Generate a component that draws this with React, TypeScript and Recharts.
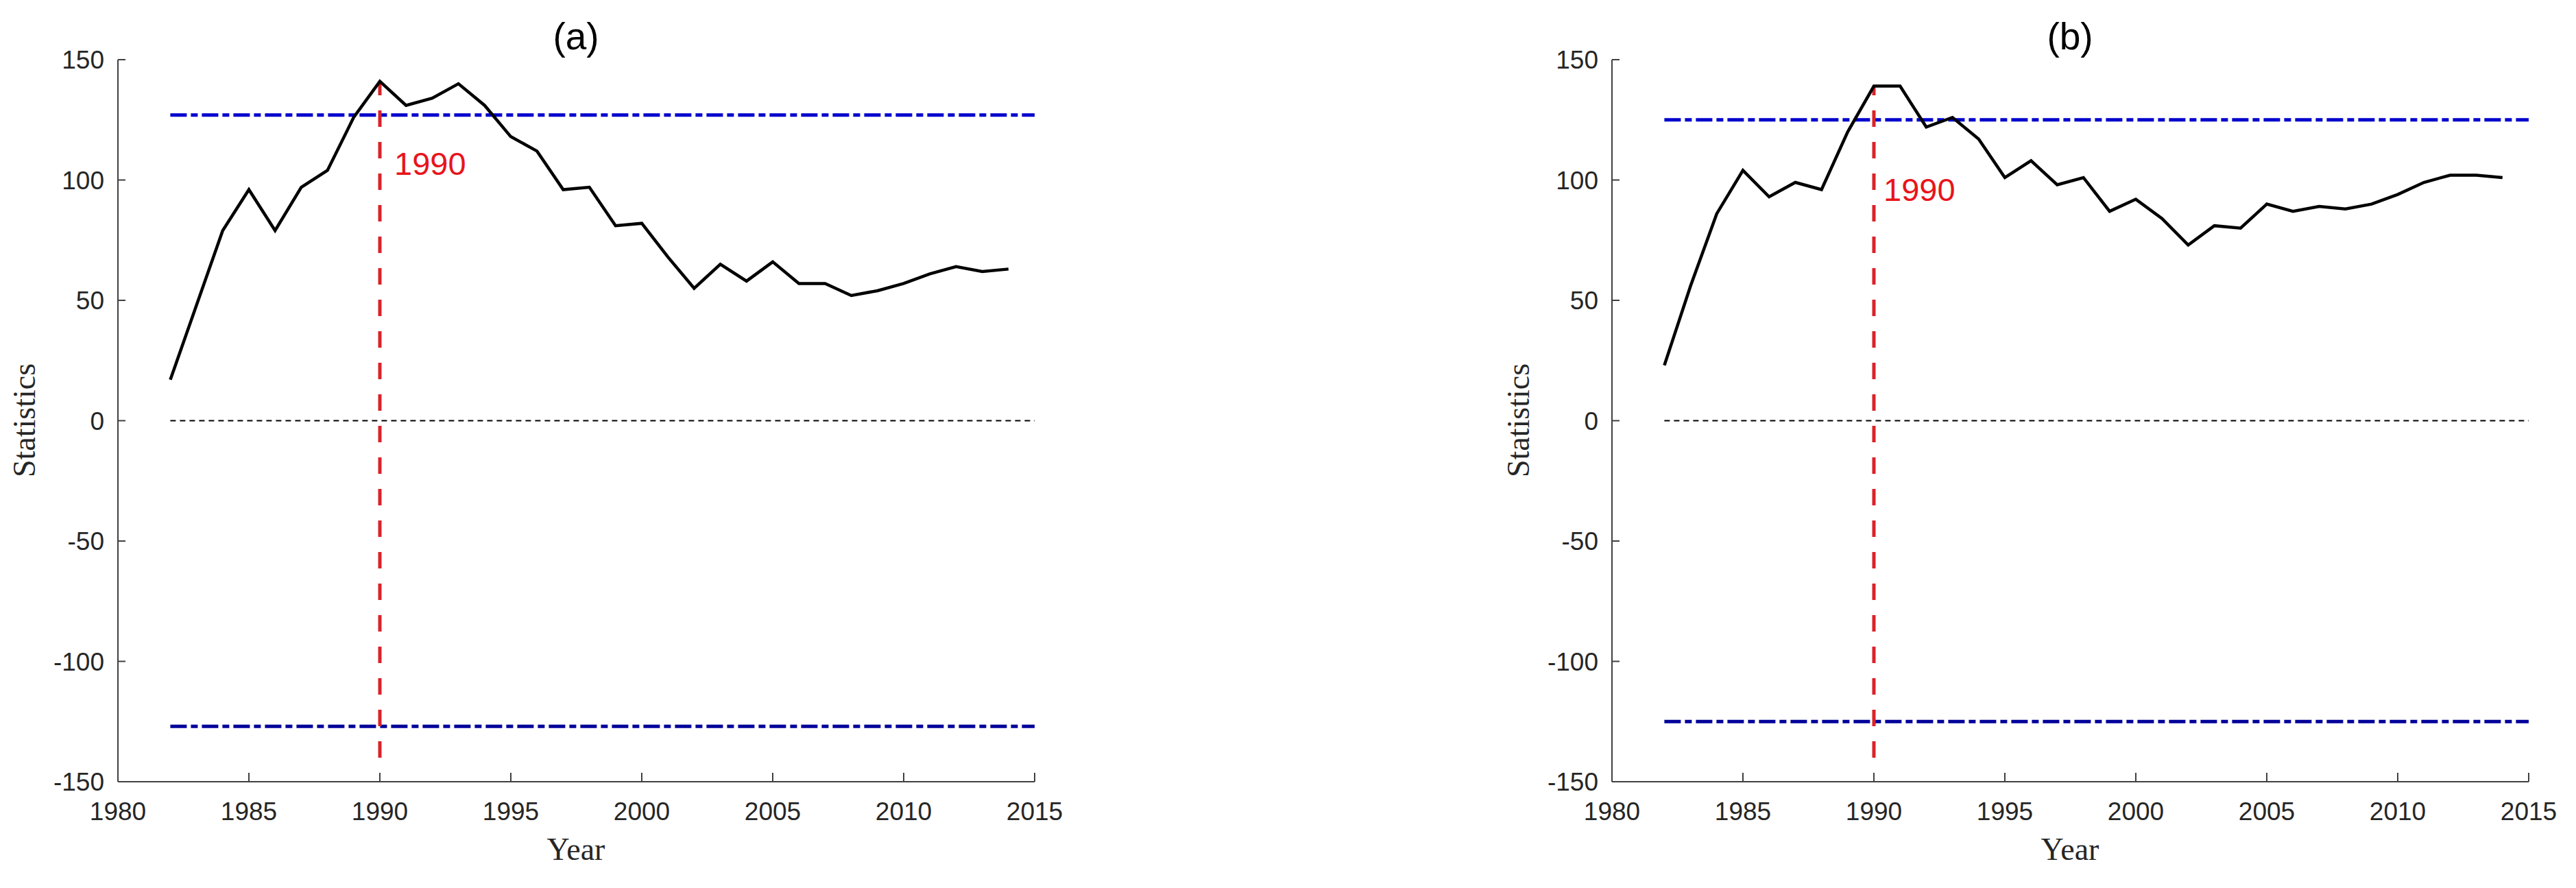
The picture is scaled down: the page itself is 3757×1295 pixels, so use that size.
import React from 'react'
import { LineChart, Line, XAxis, YAxis, ReferenceLine, ReferenceDot } from 'recharts'

// years 1982-2014, statistics
const years = [
  1982, 1983, 1984, 1985, 1986, 1987, 1988, 1989, 1990, 1991, 1992,
  1993, 1994, 1995, 1996, 1997, 1998, 1999, 2000, 2001, 2002, 2003,
  2004, 2005, 2006, 2007, 2008, 2009, 2010, 2011, 2012, 2013, 2014,
]
const statA = [
  17, 48, 79, 96, 79, 97, 104, 126, 141, 131, 134,
  140, 131, 118, 112, 96, 97, 81, 82, 68, 55, 65,
  58, 66, 57, 57, 52, 54, 57, 61, 64, 62, 63,
]
const statB = [
  23, 56, 86, 104, 93, 99, 96, 120, 139, 139, 122,
  126, 117, 101, 108, 98, 101, 87, 92, 84, 73, 81,
  80, 90, 87, 89, 88, 90, 94, 99, 102, 102, 101,
]
const limitA = 127
const limitB = 125
const breakYear = 1990
const xTicks = [1980, 1985, 1990, 1995, 2000, 2005, 2010, 2015]
const yTicks = [-150, -100, -50, 0, 50, 100, 150]

const SANS = '"Liberation Sans", Arial, Helvetica, sans-serif'
const SERIF = '"Liberation Serif", "Times New Roman", serif'
const AXIS = '#404040'

function XTick(props: any) {
  const { x, y, payload } = props
  return (
    <g>
      <line x1={x} x2={x} y1={y - 43} y2={y - 56} stroke={AXIS} strokeWidth={2} />
      <text x={x} y={y} dy="0.36em" textAnchor="middle" fontSize={37} fontFamily={SANS} fill="#262626">
        {payload.value}
      </text>
    </g>
  )
}

function YTick(props: any) {
  const { x, y, payload } = props
  return (
    <g>
      <line x1={x + 20} x2={x + 31} y1={y} y2={y} stroke={AXIS} strokeWidth={2} />
      <text x={x} y={y} dy="0.36em" textAnchor="end" fontSize={37} fontFamily={SANS} fill="#262626">
        {payload.value}
      </text>
    </g>
  )
}

type PanelProps = {
  left: number
  width: number
  marginLeft: number
  marginRight: number
  values: number[]
  limit: number
  peak: number
  labelValue: number
  labelDx: number
}

function Panel({ left, width, marginLeft, marginRight, values, limit, peak, labelValue, labelDx }: PanelProps) {
  const data = years.map((year, i) => ({ year, stat: values[i] }))
  const first = years[0]
  return (
    <div style={{ position: 'absolute', left, top: 0 }}>
      <LineChart
        width={width}
        height={1295}
        data={data}
        margin={{ top: 87, right: marginRight, bottom: 95, left: marginLeft }}
      >
        <XAxis
          dataKey="year"
          type="number"
          domain={[1980, 2015]}
          ticks={xTicks}
          interval={0}
          height={60}
          tickSize={0}
          tickMargin={43}
          tickLine={false}
          axisLine={{ stroke: AXIS, strokeWidth: 2 }}
          tick={XTick}
        />
        <YAxis
          type="number"
          domain={[-150, 150]}
          ticks={yTicks}
          interval={0}
          width={100}
          tickSize={0}
          tickMargin={20}
          tickLine={false}
          axisLine={{ stroke: AXIS, strokeWidth: 2 }}
          tick={YTick}
        />
        <ReferenceLine
          segment={[{ x: first, y: 0 }, { x: 2015, y: 0 }]}
          stroke="#000"
          strokeWidth={2}
          strokeDasharray="8 6"
        />
        <ReferenceLine
          segment={[{ x: first, y: limit }, { x: 2015, y: limit }]}
          stroke="#0000cd"
          strokeWidth={5}
          strokeDasharray="24 6 10 6"
        />
        <ReferenceLine
          segment={[{ x: first, y: -limit }, { x: 2015, y: -limit }]}
          stroke="#00009a"
          strokeWidth={5}
          strokeDasharray="24 6 10 6"
        />
        <ReferenceLine
          segment={[{ x: breakYear, y: -140 }, { x: breakYear, y: peak }]}
          stroke="#d9232a"
          strokeWidth={5}
          strokeDasharray="24 22"
        />
        <Line
          type="linear"
          dataKey="stat"
          stroke="#000"
          strokeWidth={4.5}
          strokeLinejoin="miter"
          dot={false}
          isAnimationActive={false}
        />
        <ReferenceDot
          x={breakYear}
          y={labelValue}
          r={0}
          fill="none"
          stroke="none"
          label={(p: any) => (
            <text
              x={p.viewBox.x + labelDx}
              y={p.viewBox.y + (p.viewBox.height || 0) / 2}
              dy="0.36em"
              fontSize={47}
              fontFamily={SANS}
              fill="#e8141c"
            >
              {breakYear}
            </text>
          )}
        />
      </LineChart>
    </div>
  )
}

export default function App() {
  return (
    <div style={{ position: 'absolute', left: 0, top: 0, width: 3757, height: 1295, background: '#fff', overflow: 'hidden' }}>
      <Panel left={0} width={1700} marginLeft={72} marginRight={191} values={statA} limit={limitA} peak={140} labelValue={107} labelDx={21} />
      <Panel left={1880} width={1877} marginLeft={371} marginRight={69} values={statB} limit={limitB} peak={139} labelValue={96} labelDx={14} />
      <svg width={3757} height={1295} style={{ position: 'absolute', left: 0, top: 0, pointerEvents: 'none' }}>
        <text x={840} y={72} textAnchor="middle" fontSize={55} fontFamily={SANS} fill="#000">(a)</text>
        <text x={3019} y={72} textAnchor="middle" fontSize={55} fontFamily={SANS} fill="#000">(b)</text>
        <text x={840} y={1254} textAnchor="middle" fontSize={46} fontFamily={SERIF} fill="#262626">Year</text>
        <text x={3019} y={1254} textAnchor="middle" fontSize={46} fontFamily={SERIF} fill="#262626">Year</text>
        <text x={51} y={613} transform="rotate(-90 51 613)" textAnchor="middle" fontSize={46} fontFamily={SERIF} fill="#262626">Statistics</text>
        <text x={2230} y={613} transform="rotate(-90 2230 613)" textAnchor="middle" fontSize={46} fontFamily={SERIF} fill="#262626">Statistics</text>
      </svg>
    </div>
  )
}
